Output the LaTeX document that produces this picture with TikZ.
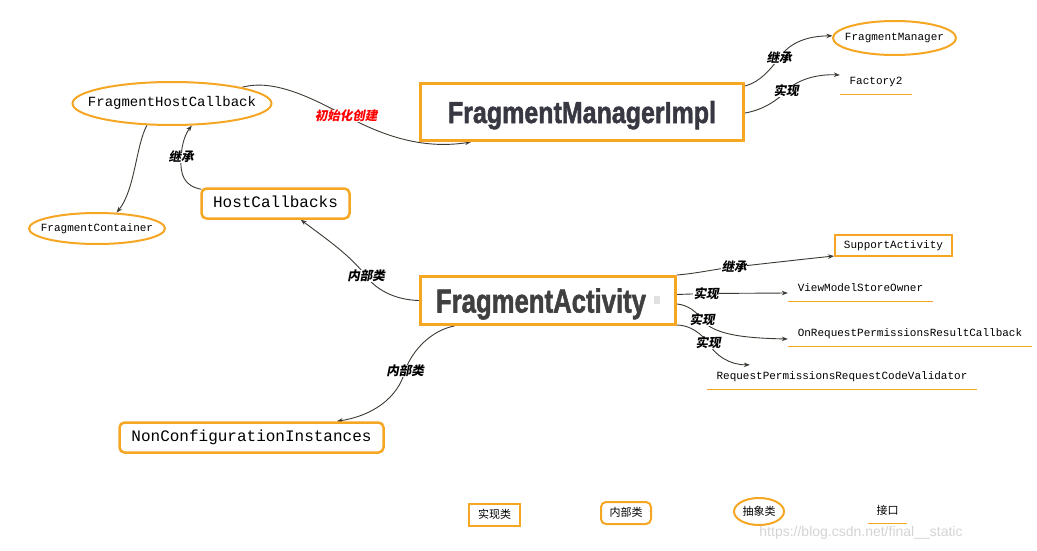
\documentclass[tikz,border=0pt]{standalone}
\usepackage{fontspec}
\usepackage{graphicx}
\usetikzlibrary{arrows.meta,shapes.geometric,calc,backgrounds}
\setmainfont{Liberation Serif}
\newfontfamily\monof{Liberation Mono}
\newfontfamily\heavyf{Liberation Sans Bold}[FakeBold=1.8]
\newfontfamily\cjklab{Noto Sans CJK SC}[FakeSlant=0.2]
\newfontfamily\cjk{Noto Sans CJK SC}
\newfontfamily\wmfont{Liberation Sans}
\definecolor{orng}{RGB}{245,166,35}
\definecolor{wire}{RGB}{60,56,50}
\definecolor{heading}{RGB}{56,56,66}
\definecolor{headingb}{RGB}{64,64,64}
\begin{document}
\begin{tikzpicture}[x=1pt,y=-1pt,
  conn/.style={draw=wire,line width=0.9pt,-{Stealth[length=6pt,width=4.5pt]}},
  heavybox/.style={draw=orng,line width=3pt,rectangle,inner sep=0pt,text=heading},
  cls/.style={draw=orng,line width=2pt,rectangle,inner sep=0pt},
  innercls/.style={draw=orng,line width=2.5pt,rectangle,rounded corners=5pt,inner sep=0pt},
  abstr/.style={draw=orng,line width=2pt,ellipse,inner sep=0pt},
  iface/.style={inner sep=0pt,append after command={(\tikzlastnode.south west) edge[draw=orng,line width=1.3pt] (\tikzlastnode.south east)}},
  mono/.style={font=\monof\fontsize{#1}{#1}\selectfont,text height={0.68*#1},text depth={0.2*#1}},
  legend/.style={font=\cjk\fontsize{11}{11}\selectfont,text height=9pt,text depth=2pt},
  lab/.style={font=\cjklab\bfseries\fontsize{12.5}{13}\selectfont,fill=white,inner sep=0.5pt,text height=10pt,text depth=1pt}
]
\useasboundingbox (0,0) rectangle (1037,551);

% class boxes (ellipse captions are centred labels so the text does not stretch the ellipse)
\node[abstr,minimum width=199pt,minimum height=43pt,label={[mono=14]center:FragmentHostCallback}] (fhc) at (172,103.5) {};
\node[abstr,minimum width=136pt,minimum height=31pt,label={[mono=11]center:FragmentContainer}] (fc) at (97,228.5) {};
\node[innercls,mono=16,minimum width=148pt,minimum height=30pt] (hc) at (275.5,203.5) {HostCallbacks};
\node[heavybox,minimum width=323pt,minimum height=57pt,text height=22pt,text depth=0pt] (fmi) at (582,112) {\resizebox{268pt}{22pt}{\heavyf FragmentManagerImpl}};
\node[abstr,minimum width=123pt,minimum height=34pt,label={[mono=11]center:FragmentManager}] (fm) at (894.5,38) {};
\node[iface,mono=11,minimum width=72pt,minimum height=24pt] (f2) at (876,82) {Factory2};
\node[heavybox,text=headingb,minimum width=255pt,minimum height=48pt,text height=24pt,text depth=0pt] (fa) at (548,300.5) {\resizebox{210pt}{24pt}{\heavyf FragmentActivity}\kern 14pt\null};
\fill[black!12] (654,296) rectangle (660,304);
\node[cls,mono=11,minimum width=117pt,minimum height=21pt] (sa) at (893.5,245.5) {SupportActivity};
\node[iface,mono=11,minimum width=145pt,minimum height=24pt] (vm) at (860.5,289) {ViewModelStoreOwner};
\node[iface,mono=11,minimum width=244pt,minimum height=24pt] (or) at (910,334) {OnRequestPermissionsResultCallback};
\node[iface,mono=11,minimum width=270pt,minimum height=24pt] (rp) at (842,377) {RequestPermissionsRequestCodeValidator};
\node[innercls,mono=16,minimum width=264pt,minimum height=30pt] (nci) at (251.5,437.5) {NonConfigurationInstances};

% relation labels
\node[lab,text=red] (l1) at (346,116) {初始化创建};
\node[lab] (l3) at (181,157) {继承};
\node[lab] (l4) at (366,276) {内部类};
\node[lab] (l5) at (405,371) {内部类};
\node[lab] (l6) at (779,58) {继承};
\node[lab] (l7) at (786,91) {实现};
\node[lab] (l8) at (734,267) {继承};
\node[lab] (l9) at (706,293.5) {实现};
\node[lab] (l10) at (702,320) {实现};
\node[lab] (l11) at (708,343) {实现};

% legend
\node[cls,legend,minimum width=51pt,minimum height=22pt] (lgimpl) at (494.5,515) {实现类};
\node[innercls,line width=2pt,legend,minimum width=50pt,minimum height=22pt] (lginner) at (626,513) {内部类};
\node[abstr,minimum width=50pt,minimum height=27pt,label={[legend]center:抽象类}] (lgabs) at (759,511.5) {};
\node[iface,legend,minimum width=39pt,minimum height=24pt] (lgif) at (887.5,511) {接口};
\node[font=\wmfont\fontsize{14}{14}\selectfont,text=black!17] (wm) at (861,533) {https://blog.csdn.net/final\_\_static};

% connectors
\begin{pgfonlayer}{background}
\draw[conn] (fhc.13) .. controls (275,78) and (315,100) .. (l1.center)
  .. controls (380,134) and (420,150) .. ($(fmi.south west)+(52,0)$);
\draw[conn] (fhc.221) .. controls (136,145) and (135,190) .. (fc.39);
\draw[conn] ($(hc.north west)+(1,2)$) .. controls (184,186) and (180,175) .. (l3.center)
  .. controls (182,142) and (186,133) .. (fhc.312);
\draw[conn] (fa.west) .. controls (398,300) and (378,292) .. (l4.center)
  .. controls (350,255) and (325,238) .. ($(hc.south west)+(100.5,0)$);
\draw[conn] ($(fa.south west)+(35.5,0)$) .. controls (432,330) and (412,350) .. (l5.center)
  .. controls (398,398) and (372,416) .. ($(nci.north west)+(218.5,0)$);
\draw[conn] ($(fmi.north east)+(0,4)$) .. controls (760,82) and (770,70) .. (l6.center)
  .. controls (790,42) and (808,36) .. (fm.178);
\draw[conn] ($(fmi.east)+(0,1)$) .. controls (763,110) and (778,100) .. (l7.center)
  .. controls (798,79) and (818,74) .. ($(f2.west)+(0,-7)$);
\draw[conn] (fa.north east) .. controls (700,273) and (715,269) .. (l8.center)
  .. controls (770,263) and (805,259) .. ($(sa.south west)+(0,-1)$);
\draw[conn] ($(fa.east)+(0,-6)$) -- (l9.center) -- ($(vm.west)+(0,4)$);
\draw[conn] ($(fa.east)+(0,3.5)$) .. controls (688,305) and (697,312) .. (l10.center)
  .. controls (714,334) and (740,338) .. ($(or.west)+(0,5)$);
\draw[conn] ($(fa.south east)+(0,-1)$) .. controls (690,325) and (702,334) .. (l11.center)
  .. controls (716,356) and (730,365) .. ($(rp.north west)+(43,0)$);
\end{pgfonlayer}
\end{tikzpicture}
\end{document}
